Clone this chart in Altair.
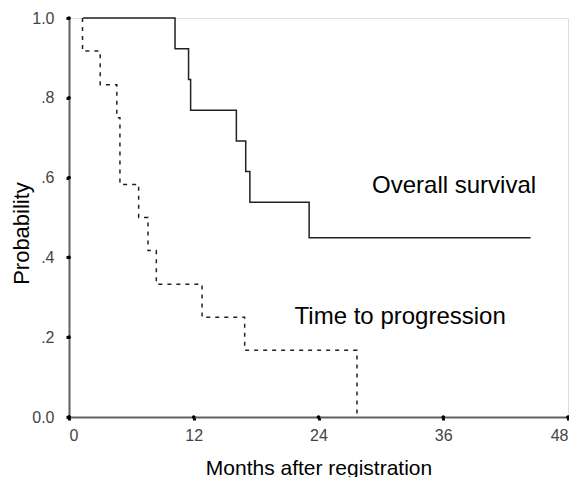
import altair as alt
import pandas as pd

# Overall survival (Kaplan-Meier, step-after)
os_months = [1.35, 10.2, 11.5, 11.7, 16.1, 17.0, 17.4, 23.1, 44.4]
os_prob = [1.0, 0.923, 0.846, 0.769, 0.692, 0.615, 0.538, 0.449, 0.449]

# Time to progression
ttp_months = [1.3, 1.3, 3.0, 4.6, 4.9, 6.7, 7.6, 8.4, 12.8, 16.9, 27.7]
ttp_prob = [1.0, 0.917, 0.833, 0.75, 0.583, 0.5, 0.417, 0.333, 0.25, 0.167, 0.0]

x_ticks = [0, 12, 24, 36, 48]
y_ticks = [0.0, 0.2, 0.4, 0.6, 0.8, 1.0]
y_tick_labels = ["0.0", ".2", ".4", ".6", ".8", "1.0"]

label_text = ["Overall survival", "Time to progression"]
label_x = [29.15, 21.7]
label_y = [0.579, 0.25]

FONT = "Liberation Sans"

os_df = pd.DataFrame({"m": os_months, "p": os_prob})
ttp_df = pd.DataFrame({"m": ttp_months, "p": ttp_prob})
lab_df = pd.DataFrame({"t": label_text, "x": label_x, "y": label_y})
xt_df = pd.DataFrame({"m": x_ticks, "p": [0.0] * len(x_ticks)})
yt_df = pd.DataFrame({"m": [0.0] * len(y_ticks), "p": y_ticks})

y_expr = " : ".join(
    f"datum.value == {v} ? '{l}'" for v, l in zip(y_ticks, y_tick_labels)
) + " : ''"

xscale = alt.Scale(domain=[0, 48], nice=False, zero=False)
yscale = alt.Scale(domain=[0, 1], nice=False)

xaxis = alt.Axis(
    title="Months after registration", values=x_ticks, grid=False,
    domainColor="#606060", domainWidth=2, tickColor="#000000", tickWidth=3, tickSize=3,
    labelFont=FONT, labelFontSize=16, labelColor="#444444", labelPadding=7,
    titleFont=FONT, titleFontSize=21, titleFontWeight="normal", titleColor="#000000",
    titleY=51, titleBaseline="middle",
)
yaxis = alt.Axis(
    title="Probability", values=y_ticks, grid=False, labelExpr=y_expr,
    domainColor="#606060", domainWidth=2, tickColor="#000000", tickWidth=3, tickSize=3,
    labelFont=FONT, labelFontSize=16, labelColor="#444444", labelPadding=12,
    titleFont=FONT, titleFontSize=22, titleFontWeight="normal", titleColor="#000000",
    titleX=-48, titleY=215, titleBaseline="middle",
)

os_line = alt.Chart(os_df).mark_line(
    interpolate="step-after", color="#222222", strokeWidth=1.5
).encode(
    x=alt.X("m:Q", scale=xscale, axis=xaxis),
    y=alt.Y("p:Q", scale=yscale, axis=yaxis),
)

ttp_line = alt.Chart(ttp_df).mark_line(
    interpolate="step-after", color="#222222", strokeWidth=1.5, strokeDash=[4, 5]
).encode(
    x=alt.X("m:Q", scale=xscale),
    y=alt.Y("p:Q", scale=yscale),
)

xtick_dots = alt.Chart(xt_df).mark_point(
    filled=True, shape="circle", size=14, color="#000000", opacity=1, clip=False
).encode(x=alt.X("m:Q", scale=xscale), y=alt.Y("p:Q", scale=yscale))

ytick_dots = alt.Chart(yt_df).mark_point(
    filled=True, shape="circle", size=14, color="#000000", opacity=1, clip=False
).encode(x=alt.X("m:Q", scale=xscale), y=alt.Y("p:Q", scale=yscale))

labels = alt.Chart(lab_df).mark_text(
    align="left", baseline="middle", font=FONT, fontSize=24, color="#000000"
).encode(
    x=alt.X("x:Q", scale=xscale),
    y=alt.Y("y:Q", scale=yscale),
    text="t:N",
)

chart = alt.layer(os_line, ttp_line, xtick_dots, ytick_dots, labels).properties(
    width=499, height=399,
    autosize=alt.AutoSizeParams(type="none"),
    padding={"left": 61, "top": 10, "right": 1, "bottom": 60},
).configure_view(stroke=None).configure(background="white")

chart.save("out.html", embed_options={"renderer": "svg", "actions": False})
